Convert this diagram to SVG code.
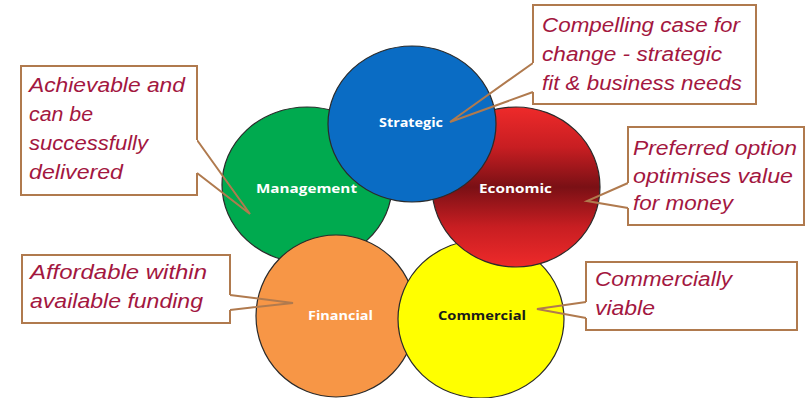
<svg xmlns="http://www.w3.org/2000/svg" width="810" height="398" viewBox="0 0 810 398">
<defs>
<linearGradient id="econ" x1="0" y1="0" x2="0" y2="1">
<stop offset="0" stop-color="#EE2A2A"/>
<stop offset="0.25" stop-color="#C81E22"/>
<stop offset="0.5" stop-color="#7A1015"/>
<stop offset="0.75" stop-color="#C81E22"/>
<stop offset="1" stop-color="#EE2A2A"/>
</linearGradient>
</defs>
<style>
.c{stroke:#2a2a2a;stroke-width:1.2}
.lbl{font-family:"Open Sans","Liberation Sans",sans-serif;font-weight:bold;font-size:13px;fill:#ffffff}
.box{fill:#ffffff;stroke:none}
.out{fill:none;stroke:#B07A4E;stroke-width:2;stroke-linejoin:miter}
.t{font-family:"Liberation Sans","Open Sans",sans-serif;font-style:italic;font-size:20px;fill:#A3173F}
</style>
<rect width="810" height="398" fill="#ffffff"/>
<g id="management">
<ellipse class="c" cx="307" cy="185" rx="85" ry="78" fill="#00AA4F"/>
<text class="lbl" x="256" y="193" textLength="101" lengthAdjust="spacingAndGlyphs">Management</text>
</g>
<g id="financial">
<ellipse class="c" cx="336" cy="316" rx="80" ry="81" fill="#F79646"/>
<text class="lbl" x="308" y="320" textLength="65" lengthAdjust="spacingAndGlyphs">Financial</text>
</g>
<g id="commercial">
<ellipse class="c" cx="481" cy="319" rx="83" ry="79" fill="#FFFF00"/>
<text class="lbl" x="438" y="320" textLength="88" lengthAdjust="spacingAndGlyphs" style="fill:#1a1a1a">Commercial</text>
</g>
<g id="economic">
<ellipse class="c" cx="516" cy="187" rx="84" ry="80" fill="url(#econ)"/>
<text class="lbl" x="479" y="193" textLength="73" lengthAdjust="spacingAndGlyphs">Economic</text>
</g>
<g id="strategic">
<ellipse class="c" cx="412" cy="124" rx="84" ry="78" fill="#0A6CC4"/>
<text class="lbl" x="379" y="127" textLength="64" lengthAdjust="spacingAndGlyphs">Strategic</text>
</g>
<g id="connectors">
<path class="out" d="M197,140 L250,214 L197,173"/>
<path class="out" d="M533,92 L450,122 L533,63"/>
<path class="out" d="M628,208 L587,201 L628,183"/>
<path class="out" d="M230,295 L293,303 L230,310"/>
<path class="out" d="M586,318 L537,309 L586,302"/>
</g>
<g id="callout-management">
<rect class="box" x="21" y="66" width="176" height="129"/>
<path class="out" d="M197,140 V66 H21 V195 H197 V173"/>
<text class="t" x="29" y="92" textLength="156" lengthAdjust="spacingAndGlyphs">Achievable and</text>
<text class="t" x="29" y="121" textLength="64" lengthAdjust="spacingAndGlyphs">can be</text>
<text class="t" x="29" y="150" textLength="119" lengthAdjust="spacingAndGlyphs">successfully</text>
<text class="t" x="29" y="179" textLength="94" lengthAdjust="spacingAndGlyphs">delivered</text>
</g>
<g id="callout-strategic">
<rect class="box" x="533" y="5" width="223" height="99"/>
<path class="out" d="M533,63 V5 H756 V104 H533 V92"/>
<text class="t" x="542" y="32" textLength="198" lengthAdjust="spacingAndGlyphs">Compelling case for</text>
<text class="t" x="542" y="61" textLength="180" lengthAdjust="spacingAndGlyphs">change - strategic</text>
<text class="t" x="542" y="90" textLength="200" lengthAdjust="spacingAndGlyphs">fit &amp; business needs</text>
</g>
<g id="callout-economic">
<rect class="box" x="628" y="127" width="176" height="98"/>
<path class="out" d="M628,183 V127 H804 V225 H628 V208"/>
<text class="t" x="633" y="155" textLength="164" lengthAdjust="spacingAndGlyphs">Preferred option</text>
<text class="t" x="633" y="183" textLength="160" lengthAdjust="spacingAndGlyphs">optimises  value</text>
<text class="t" x="633" y="210" textLength="100" lengthAdjust="spacingAndGlyphs">for money</text>
</g>
<g id="callout-financial">
<rect class="box" x="22" y="255" width="208" height="68"/>
<path class="out" d="M230,295 V255 H22 V323 H230 V310"/>
<text class="t" x="30" y="279" textLength="177" lengthAdjust="spacingAndGlyphs">Affordable within</text>
<text class="t" x="30" y="308" textLength="173" lengthAdjust="spacingAndGlyphs">available funding</text>
</g>
<g id="callout-commercial">
<rect class="box" x="586" y="262" width="211" height="68"/>
<path class="out" d="M586,302 V262 H797 V330 H586 V318"/>
<text class="t" x="595" y="286" textLength="137" lengthAdjust="spacingAndGlyphs">Commercially</text>
<text class="t" x="595" y="315" textLength="60" lengthAdjust="spacingAndGlyphs">viable</text>
</g>
</svg>
